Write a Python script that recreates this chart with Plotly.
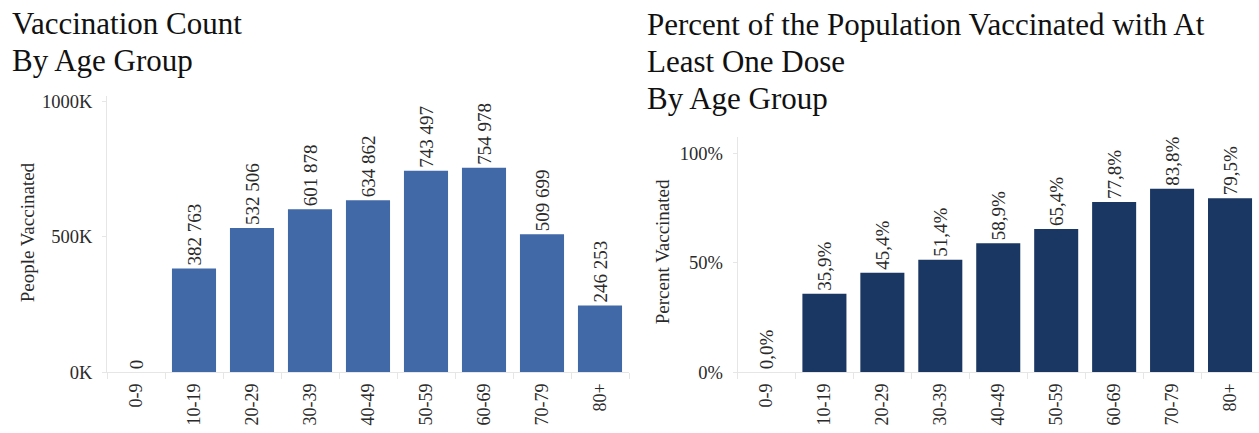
import plotly.graph_objects as go

# ---- data ----
age_groups = ["0-9", "10-19", "20-29", "30-39", "40-49", "50-59", "60-69", "70-79", "80+"]
people_vaccinated = [0, 382763, 532506, 601878, 634862, 743497, 754978, 509699, 246253]
percent_vaccinated = [0.0, 35.9, 45.4, 51.4, 58.9, 65.4, 77.8, 83.8, 79.5]

count_tickvals = [0, 500000, 1000000]
count_ticktext = ["0K", "500K", "1000K"]
pct_tickvals = [0, 50, 100]
pct_ticktext = ["0%", "50%", "100%"]

left_title_lines = ["Vaccination Count", "By Age Group"]
right_title_lines = ["Percent of the Population Vaccinated with At", "Least One Dose", "By Age Group"]

W, H = 1259, 433
FONT = "Liberation Serif, Times New Roman, serif"


def fx(p):
    return p / W


def fy(p):
    return 1 - p / H


count_text = [f"{v:,}".replace(",", " ") for v in people_vaccinated]
pct_text = [f"{v:.1f}%".replace(".", ",") for v in percent_vaccinated]

fig = go.Figure()
fig.add_trace(go.Bar(
    x=age_groups, y=people_vaccinated, text=count_text,
    textposition="outside", textangle=-90, constraintext="none", cliponaxis=False,
    textfont=dict(family=FONT, size=19, color="#2a2a2a"),
    marker=dict(color="#4169a7", line=dict(width=0)),
    xaxis="x", yaxis="y", hoverinfo="x+y",
))
fig.add_trace(go.Bar(
    x=age_groups, y=percent_vaccinated, text=pct_text,
    textposition="outside", textangle=-90, constraintext="none", cliponaxis=False,
    textfont=dict(family=FONT, size=19, color="#2a2a2a"),
    marker=dict(color="#193762", line=dict(width=0)),
    xaxis="x2", yaxis="y2", hoverinfo="x+y",
))

axis_line = "#e6e6e6"
xcommon = dict(
    type="category", showgrid=False, zeroline=False,
    showline=True, linecolor=axis_line, linewidth=1,
    ticks="outside", tickson="boundaries", ticklen=6, tickcolor=axis_line,
    tickangle=-90, ticklabelstandoff=3,
    tickfont=dict(family=FONT, size=18, color="#2a2a2a"),
    fixedrange=True,
)
ycommon = dict(
    showgrid=False, zeroline=False,
    showline=True, linecolor=axis_line, linewidth=1,
    ticks="outside", ticklen=4, tickcolor=axis_line, ticklabelstandoff=6,
    tickfont=dict(family=FONT, size=18.5, color="#2a2a2a"),
    fixedrange=True,
)

fig.update_layout(
    width=W, height=H,
    margin=dict(l=0, r=0, t=0, b=0),
    paper_bgcolor="white", plot_bgcolor="white",
    showlegend=False, bargap=0.24,
    xaxis=dict(domain=[fx(107), fx(629)], anchor="y", **xcommon),
    yaxis=dict(domain=[fy(380.5), fy(95)], anchor="x", range=[0, 1020000],
               tickvals=count_tickvals, ticktext=count_ticktext, **ycommon),
    xaxis2=dict(domain=[fx(737.5), 1.0], anchor="y2", **xcommon),
    yaxis2=dict(domain=[fy(380.5), fy(137)], anchor="x2", range=[0, 107.7],
                tickvals=pct_tickvals, ticktext=pct_ticktext, **ycommon),
)

annotations = []
for i, line in enumerate(left_title_lines):
    annotations.append(dict(
        text=line, xref="paper", yref="paper", x=fx(10), y=fy(20 + 38.5 * i),
        xanchor="left", yanchor="middle", showarrow=False,
        font=dict(family=FONT, size=31, color="#111111"),
    ))
for i, line in enumerate(right_title_lines):
    annotations.append(dict(
        text=line, xref="paper", yref="paper", x=fx(645), y=fy(21 + 38.5 * i),
        xanchor="left", yanchor="middle", showarrow=False,
        font=dict(family=FONT, size=31, color="#111111"),
    ))
annotations.append(dict(
    text="People Vaccinated", xref="paper", yref="paper", x=fx(27), y=fy(236),
    xanchor="center", yanchor="middle", textangle=-90, showarrow=False,
    font=dict(family=FONT, size=19, color="#2a2a2a"),
))
annotations.append(dict(
    text="Percent Vaccinated", xref="paper", yref="paper", x=fx(662), y=fy(256.5),
    xanchor="center", yanchor="middle", textangle=-90, showarrow=False,
    font=dict(family=FONT, size=19, color="#2a2a2a"),
))
fig.update_layout(annotations=annotations)

fig.write_html("out.html", config={"displayModeBar": False})
